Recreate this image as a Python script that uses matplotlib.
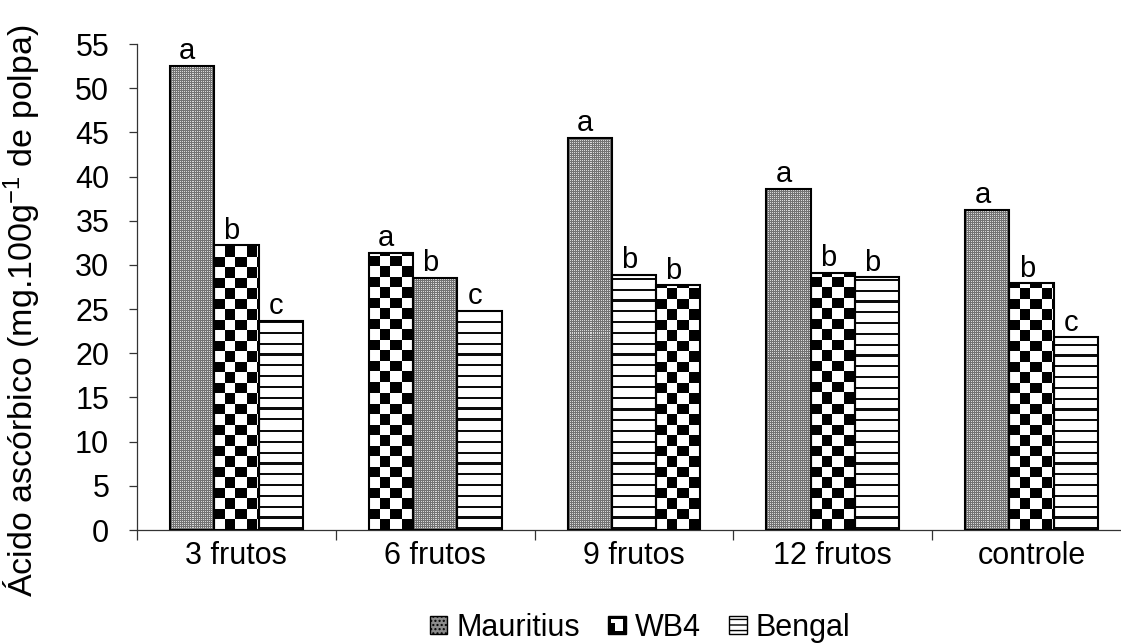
import numpy as np
import matplotlib
matplotlib.use("Agg")
import matplotlib.pyplot as plt
from matplotlib.patches import Rectangle
from matplotlib.legend_handler import HandlerBase

plt.rcParams["font.family"] = ["Liberation Sans", "DejaVu Sans"]
plt.rcParams["mathtext.fontset"] = "custom"
plt.rcParams["mathtext.rm"] = "Liberation Sans"
plt.rcParams["mathtext.it"] = "Liberation Sans:italic"

# --- data -------------------------------------------------------------
categories = ["3 frutos", "6 frutos", "9 frutos", "12 frutos", "controle"]
series_names = ["Mauritius", "WB4", "Bengal"]
mauritius = [52.5, 28.5, 44.4, 38.6, 36.2]
wb4 = [32.2, 31.4, 27.7, 29.1, 27.9]
bengal = [23.7, 24.8, 28.9, 28.6, 21.8]
mauritius_letters = ["a", "b", "a", "a", "a"]
wb4_letters = ["b", "a", "b", "b", "b"]
bengal_letters = ["c", "c", "b", "b", "c"]
yticks = list(range(0, 56, 5))

values = np.array([mauritius, wb4, bengal])
letters = [mauritius_letters, wb4_letters, bengal_letters]
kinds = ["stipple", "checker", "hlines"]

FS = 22
W, H = 1121, 643
fig = plt.figure(figsize=(W / 100, H / 100), dpi=100)
ax = fig.add_axes([137 / W, (H - 530) / H, (1131 - 137) / W, 486 / H])
ax.set_xlim(-0.5, len(categories) - 0.5)
ax.set_ylim(0, 55)

bar_w = 0.223


def texture(kind, wpx, hpx):
    yy, xx = np.mgrid[0:hpx, 0:wpx]
    if kind == "checker":
        sq = 10.5
        return np.where(((xx // sq + yy // sq) % 2) == 0, 1.0, 0.0)
    if kind == "hlines":
        per = 10.8
        return np.where((yy % per) < 2.2, 0.05, 1.0)
    img = np.full((hpx, wpx), 0.45)
    img[(xx % 2 == 0) & (yy % 2 == 0)] = 0.85
    return img


# bars ordered inside each group from the highest to the lowest value
for g in range(len(categories)):
    order = np.argsort(-values[:, g], kind="stable")
    for rank, s in enumerate(order):
        x = g + (rank - 1) * bar_w
        v = values[s, g]
        bar = ax.bar(x, v, width=bar_w, facecolor="white", edgecolor="none", zorder=2)[0]
        x0, x1 = bar.get_x(), bar.get_x() + bar.get_width()
        p0 = ax.transData.transform((x0, 0))
        p1 = ax.transData.transform((x1, v))
        wpx = max(int(round(p1[0] - p0[0])), 1)
        hpx = max(int(round(p1[1] - p0[1])), 1)
        ax.imshow(texture(kinds[s], wpx, hpx), cmap="gray", vmin=0, vmax=1,
                  interpolation="nearest", origin="lower", aspect="auto",
                  extent=(x0, x1, 0, v), zorder=2.5)
        ax.bar(x, v, width=bar_w, facecolor="none", edgecolor="black",
               linewidth=1.5, zorder=3)
        ax.annotate(letters[s][g], (x, v), xytext=(-3.5, 0.5), textcoords="offset points",
                    ha="center", va="bottom", fontsize=21)

ax.set_xlim(-0.5, len(categories) - 0.5)
ax.set_ylim(0, 55)

# axes styling
for side in ("top", "right"):
    ax.spines[side].set_visible(False)
for side in ("left", "bottom"):
    ax.spines[side].set_linewidth(0.9)
    ax.spines[side].set_color("#333333")

ax.set_yticks(yticks)
ax.tick_params(axis="y", length=6, width=0.9, color="#333333", labelsize=FS, pad=14)
ax.set_xticks(range(len(categories)))
ax.set_xticklabels(categories)
ax.set_xticks(np.arange(-0.5, len(categories), 1.0), minor=True)
ax.tick_params(axis="x", which="major", length=0, labelsize=FS, pad=8)
ax.tick_params(axis="x", which="minor", length=7, width=0.9, color="#333333")

fig.text(22 / W, 1 - 311 / H, "Ácido ascórbico (mg.100g$^{-1}$ de polpa)",
         rotation=90, ha="center", va="center", fontsize=24.5)


# legend with small swatches
class Swatch(HandlerBase):
    def __init__(self, kind):
        super().__init__()
        self.kind = kind

    def create_artists(self, legend, orig_handle, xdescent, ydescent, width, height,
                       fontsize, trans):
        s = height * 1.0
        x0 = -xdescent + (width - s)
        y0 = -ydescent + (height - s) / 2
        arts = []
        if self.kind == "stipple":
            arts.append(Rectangle((x0, y0), s, s, facecolor="#8c8c8c",
                                  edgecolor="black", linewidth=1.0, hatch="....",
                                  transform=trans))
        elif self.kind == "checker":
            arts.append(Rectangle((x0, y0), s, s, facecolor="black",
                                  edgecolor="black", linewidth=1.0, transform=trans))
            arts.append(Rectangle((x0 + 0.4 * s, y0 + 0.15 * s), 0.45 * s, 0.45 * s,
                                  facecolor="white", edgecolor="none", transform=trans))
            arts.append(Rectangle((x0 + 0.15 * s, y0 + 0.6 * s), 0.7 * s, 0.25 * s,
                                  facecolor="white", edgecolor="none", transform=trans))
        else:
            arts.append(Rectangle((x0, y0), s, s, facecolor="white",
                                  edgecolor="black", linewidth=1.0, hatch="---",
                                  transform=trans))
        return arts


handles = [Rectangle((0, 0), 1, 1) for _ in series_names]
fig.legend(handles, series_names, loc="center", bbox_to_anchor=(641 / W, 1 - 628 / H),
           ncol=3, frameon=False, fontsize=FS, handlelength=0.5, handleheight=0.5,
           handletextpad=0.3, columnspacing=1.0,
           handler_map={h: Swatch(k) for h, k in zip(handles, kinds)})

fig.savefig("out.png", dpi=100)
